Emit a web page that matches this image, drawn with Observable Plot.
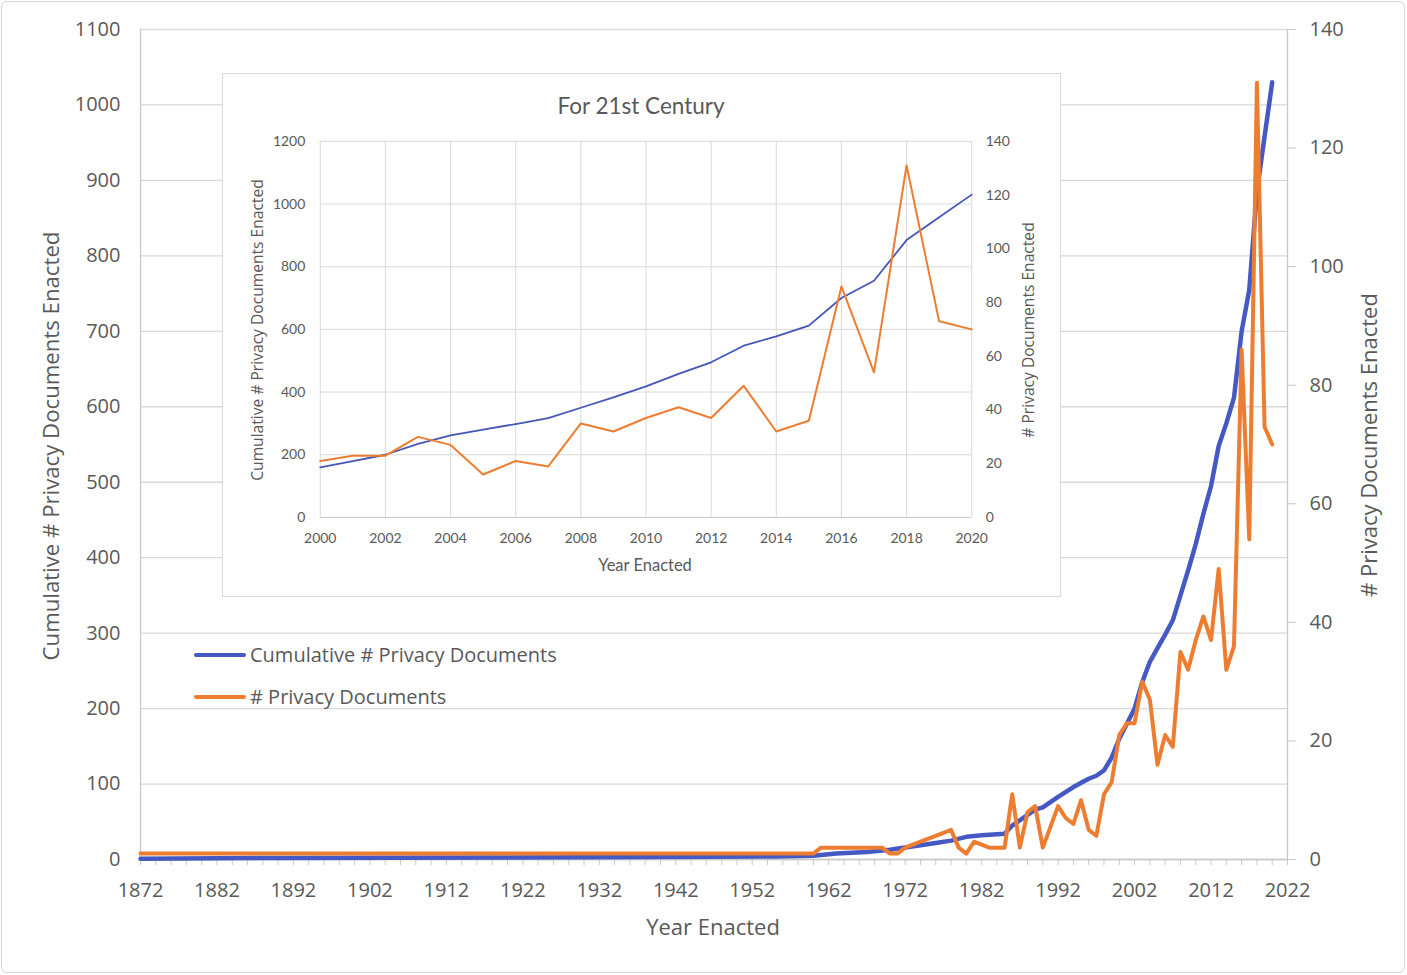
<!DOCTYPE html>
<html>
<head>
<meta charset="utf-8">
<script src="https://cdn.jsdelivr.net/npm/d3@7"></script>
<script src="https://cdn.jsdelivr.net/npm/@observablehq/plot@0.6"></script>
<style>
  html, body { margin: 0; padding: 0; background: #ffffff; }
  #root { position: relative; width: 1407px; height: 975px; overflow: hidden; background: #fff; font-family: 'Open Sans', sans-serif; color: #595959; }
  .layer { position: absolute; left: 0; top: 0; }
  .abs { position: absolute; white-space: nowrap; }
  .rot { transform: translate(-50%, -50%) rotate(-90deg); }
  .ctr { transform: translate(-50%, -50%); }
</style>
</head>
<body>
<div id="root">
  <div class="abs" style="left:1px;top:1px;width:1402px;height:970px;border:1px solid #d4d4d4;border-radius:6px;"></div>
  <div id="main"></div>
  <div class="abs rot" style="left:50px;top:446px;font-size:22.2px;">Cumulative # Privacy Documents Enacted</div>
  <div class="abs rot" style="left:1368px;top:445px;font-size:22px;">#&nbsp;Privacy Documents Enacted</div>
  <div class="abs ctr" style="left:713px;top:926px;font-size:22px;">Year Enacted</div>
  <div id="legend"></div>
  <div id="inset" class="abs" style="left:222px;top:73px;width:839px;height:524px;background:#fff;border:1px solid #d9d9d9;box-sizing:border-box;"></div>
</div>
<script>
// ---------- Data ----------
// Main chart: years before 2000
const cumYearsEarly  = [1872, 1890, 1930, 1955, 1960, 1963, 1967, 1970, 1974, 1976, 1978, 1980, 1982, 1985, 1986, 1989, 1990, 1992, 1994, 1996, 1997, 1998, 1999];
const cumValuesEarly = [1, 2, 3, 4, 5, 8, 10, 13, 19, 22, 25, 30, 32, 34, 45, 66, 69, 83, 96, 107, 111, 118, 135];
const countYearsEarly  = [1872, 1960, 1961, 1969, 1970, 1971, 1972, 1974, 1976, 1978, 1979, 1980, 1981, 1983, 1985, 1986, 1987, 1988, 1989, 1990, 1992, 1993, 1994, 1995, 1996, 1997, 1998, 1999];
const countValuesEarly = [1, 1, 2, 2, 1, 1, 2, 3, 4, 5, 2, 1, 3, 2, 2, 11, 2, 8, 9, 2, 9, 7, 6, 10, 5, 4, 11, 13];

// 21st century (inset, also used by the main chart)
const years21   = [2000, 2001, 2002, 2003, 2004, 2005, 2006, 2007, 2008, 2009, 2010, 2011, 2012, 2013, 2014, 2015, 2016, 2017, 2018, 2019, 2020];
const cum21     = [160, 180, 200, 235, 262, 280, 298, 317, 350, 383, 418, 458, 495, 548, 578, 612, 700, 755, 885, 958, 1030];
const count21   = [21, 23, 23, 30, 27, 16, 21, 19, 35, 32, 37, 41, 37, 49, 32, 36, 86, 54, 131, 73, 70];

// Tick labels
const mainXTicks      = [1872, 1882, 1892, 1902, 1912, 1922, 1932, 1942, 1952, 1962, 1972, 1982, 1992, 2002, 2012, 2022];
const mainXMinorTicks = d3.range(1872, 2023, 2);
const mainLeftTicks   = [0, 100, 200, 300, 400, 500, 600, 700, 800, 900, 1000, 1100];
const mainRightTicks  = [0, 20, 40, 60, 80, 100, 120, 140];
const insetXTicks     = [2000, 2002, 2004, 2006, 2008, 2010, 2012, 2014, 2016, 2018, 2020];
const insetLeftTicks  = [0, 200, 400, 600, 800, 1000, 1200];
const insetRightTicks = [0, 20, 40, 60, 80, 100, 120, 140];

const seriesNames = ["Cumulative # Privacy Documents", "# Privacy Documents"];
const BLUE = "#4459C4", ORANGE = "#ED7D31", GRID = "#d9d9d9", AXIS = "#c8c8c8";

// ---------- Build tables ----------
const cumMain = cumYearsEarly.map((y, i) => ({year: y, value: cumValuesEarly[i]}))
  .concat(years21.map((y, i) => ({year: y, value: cum21[i]})));
const countMain = countYearsEarly.map((y, i) => ({year: y, value: countValuesEarly[i]}))
  .concat(years21.map((y, i) => ({year: y, value: count21[i]})));
const cumInset = years21.map((y, i) => ({year: y, value: cum21[i]}));
const countInset = years21.map((y, i) => ({year: y, value: count21[i]}));

const fmt = d => String(d);

// ---------- Main chart ----------
const W = 1407, H = 975;
const mainMargins = {marginLeft: 140, marginRight: 120, marginTop: 29, marginBottom: 116};
const baseStyle = {fontFamily: "'Open Sans', sans-serif", fontSize: "20px", color: "#595959", background: "transparent", overflow: "visible"};

const mainLeft = Plot.plot({
  width: W, height: H, ...mainMargins,
  style: baseStyle,
  x: {type: "linear", domain: [1872, 2022]},
  y: {type: "linear", domain: [0, 1100]},
  marks: [
    Plot.gridY({ticks: mainLeftTicks, stroke: GRID, strokeOpacity: 1, strokeWidth: 1.3}),
    Plot.ruleX([1872], {stroke: AXIS, strokeWidth: 1.3}),
    Plot.ruleY([0], {stroke: AXIS, strokeWidth: 1.3}),
    Plot.axisY({ticks: mainLeftTicks, tickSize: 0, tickPadding: 20, fontSize: 20, label: null, tickFormat: fmt}),
    Plot.axisX({ticks: mainXMinorTicks, tickSize: 6, stroke: AXIS, tickFormat: () => "", label: null}),
    Plot.axisX({ticks: mainXTicks, tickSize: 0, tickPadding: 23, fontSize: 20, label: null, tickFormat: fmt}),
    Plot.lineY(cumMain, {x: "year", y: "value", stroke: BLUE, strokeWidth: 4.5})
  ]
});
mainLeft.classList.add("layer");

const mainRight = Plot.plot({
  width: W, height: H, ...mainMargins,
  style: baseStyle,
  x: {type: "linear", domain: [1872, 2022], axis: null},
  y: {type: "linear", domain: [0, 140]},
  marks: [
    Plot.ruleX([2022], {stroke: AXIS, strokeWidth: 1.3}),
    Plot.axisY({anchor: "right", ticks: mainRightTicks, tickSize: 8, stroke: AXIS, tickPadding: 14, fontSize: 20, label: null, tickFormat: fmt}),
    Plot.lineY(countMain, {x: "year", y: "value", stroke: ORANGE, strokeWidth: 4})
  ]
});
mainRight.classList.add("layer");

const mainDiv = document.getElementById("main");
mainDiv.appendChild(mainLeft);
mainDiv.appendChild(mainRight);

// ---------- Legend ----------
const legend = document.getElementById("legend");
[[BLUE, 655, 4.5], [ORANGE, 697, 4]].forEach(([c, y, w], i) => {
  const sw = document.createElement("div");
  sw.className = "abs";
  sw.style.cssText = `left:194px;top:${y - w / 2}px;width:52px;height:${w}px;background:${c};border-radius:2px;`;
  legend.appendChild(sw);
  const t = document.createElement("div");
  t.className = "abs";
  t.style.cssText = `left:250px;top:${y}px;transform:translateY(-52%);font-size:20px;`;
  t.textContent = seriesNames[i];
  legend.appendChild(t);
});

// ---------- Inset ----------
const inset = document.getElementById("inset");
const IW = 839, IH = 524;
const insetMargins = {marginLeft: 97, marginRight: 89, marginTop: 67, marginBottom: 80};
const insetStyle = {fontFamily: "Lato, 'Open Sans', sans-serif", fontSize: "14px", color: "#595959", background: "transparent", overflow: "visible"};

const insetLeft = Plot.plot({
  width: IW, height: IH, ...insetMargins,
  style: insetStyle,
  x: {type: "linear", domain: [2000, 2020]},
  y: {type: "linear", domain: [0, 1200]},
  marks: [
    Plot.gridX({ticks: insetXTicks, stroke: GRID, strokeOpacity: 1}),
    Plot.gridY({ticks: insetLeftTicks, stroke: GRID, strokeOpacity: 1}),
    Plot.ruleY([0], {stroke: AXIS}),
    Plot.axisY({ticks: insetLeftTicks, tickSize: 0, tickPadding: 15, fontSize: 14, label: null, tickFormat: fmt}),
    Plot.axisX({ticks: insetXTicks, tickSize: 0, tickPadding: 16, fontSize: 14, label: null, tickFormat: fmt}),
    Plot.lineY(cumInset, {x: "year", y: "value", stroke: "#4556B8", strokeWidth: 1.8})
  ]
});
insetLeft.classList.add("layer");

const insetRight = Plot.plot({
  width: IW, height: IH, ...insetMargins,
  style: insetStyle,
  x: {type: "linear", domain: [2000, 2020], axis: null},
  y: {type: "linear", domain: [0, 140]},
  marks: [
    Plot.axisY({anchor: "right", ticks: insetRightTicks, tickSize: 0, tickPadding: 14, fontSize: 14, label: null, tickFormat: fmt}),
    Plot.lineY(countInset, {x: "year", y: "value", stroke: ORANGE, strokeWidth: 2})
  ]
});
insetRight.classList.add("layer");

inset.appendChild(insetLeft);
inset.appendChild(insetRight);

function addText(parent, text, x, y, size, cls, family) {
  const d = document.createElement("div");
  d.className = "abs " + cls;
  d.style.left = x + "px";
  d.style.top = y + "px";
  d.style.fontSize = size + "px";
  if (family) d.style.fontFamily = family;
  d.textContent = text;
  parent.appendChild(d);
}
addText(inset, "For 21st Century", 418, 31, 22.5, "ctr", "Lato, 'Open Sans', sans-serif");
addText(inset, "Year Enacted", 422, 491, 16.5, "ctr", "Lato, 'Open Sans', sans-serif");
addText(inset, "Cumulative # Privacy Documents Enacted", 34, 256, 15.6, "rot", "'Open Sans', sans-serif");
addText(inset, "# Privacy Documents Enacted", 805, 256, 15.6, "rot", "'Open Sans', sans-serif");
</script>
</body>
</html>
